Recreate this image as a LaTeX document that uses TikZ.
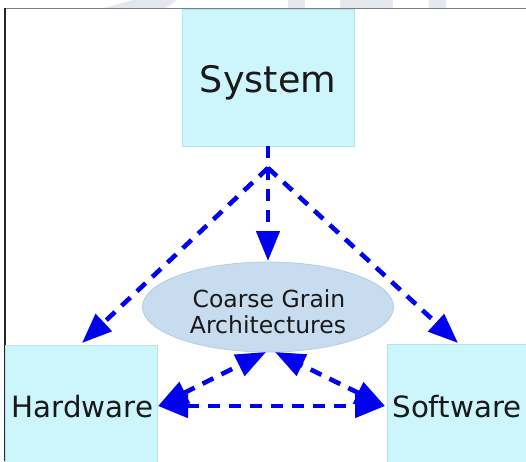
\documentclass[tikz,border=0pt]{standalone}
\usepackage{fontspec}
\setmainfont{DejaVu Sans}
\usetikzlibrary{arrows.meta,shapes.geometric}
\definecolor{boxfill}{HTML}{CCF5FC}
\definecolor{boxline}{HTML}{B9E3EA}
\definecolor{ellfill}{HTML}{C8DCF0}
\definecolor{ellline}{HTML}{B5CCE4}
\definecolor{wm}{HTML}{E4E8EC}
\definecolor{arrowblue}{HTML}{0000F0}
\tikzset{
  box/.style={draw=boxline, fill=boxfill, line width=0.8pt, inner sep=0pt},
  dline/.style={draw=arrowblue, line width=4.6pt, dash pattern=on 12pt off 9pt},
  conn/.style={dline, -{Triangle[length=30pt,width=23pt]}},
  conn2/.style={dline, {Triangle[length=30pt,width=23pt]}-{Triangle[length=30pt,width=23pt]}},
  lbl/.style={text=black!90, inner sep=0pt, anchor=base}
}
\begin{document}
\begin{tikzpicture}[x=1pt,y=-1pt]
\useasboundingbox (0,0) rectangle (526,461);
% watermark
\fill[wm] (104,8) -- (133,0) -- (177,0) -- (166,8) -- cycle;
\fill[wm] (288,0) rectangle (305,8);
\fill[wm] (340,0) rectangle (393,8);
\fill[wm] (429,0) rectangle (446,8);
% frame
\draw[draw=black!50, line width=1.6pt] (5,8.3) -- (526,8.3);
\draw[draw=black!85, line width=1.1pt] (5,8) -- (5,461);
% boxes
\path[box] (182,9) rectangle (354,146);
\coordinate (sysb) at (268,146);
\path[box] (5.5,345) rectangle (157,462);
\path[box] (387,344) rectangle (527,462);
\node[draw=ellline, fill=ellfill, line width=0.8pt, ellipse, minimum width=251pt, minimum height=90pt, inner sep=0pt] (ell) at (268,307) {};
% texts
\node[lbl, font=\fontsize{36.5}{40}\selectfont] (sys) at (268,92) {System};
\node[lbl, font=\fontsize{29.3}{34}\selectfont] (hw) at (82.5,417) {Hardware};
\node[lbl, font=\fontsize{29.3}{34}\selectfont] (sw) at (457,417) {Software};
\node[lbl, font=\fontsize{23.5}{26}\selectfont] (c1) at (269,307) {Coarse Grain};
\node[lbl, font=\fontsize{23.5}{26}\selectfont] (c2) at (268,333) {Architectures};
% connector anchors
\coordinate (fork) at (268,168);
\coordinate (elltop) at (268,261);
\coordinate (hwtop) at (82,343);
\coordinate (swtop) at (458,343);
\coordinate (hwr) at (158,406);
\coordinate (swl) at (385,406);
\coordinate (ellbl) at (266,352);
\coordinate (ellbr) at (275,352);
% connectors
\draw[dline] (sysb) -- (fork);
\draw[conn] (fork) -- (elltop);
\draw[conn] (fork) -- (hwtop);
\draw[conn] (fork) -- (swtop);
\draw[conn2] (hwr) -- (swl);
\draw[conn2] (hwr) -- (ellbl);
\draw[conn2] (swl) -- (ellbr);
\end{tikzpicture}
\end{document}
